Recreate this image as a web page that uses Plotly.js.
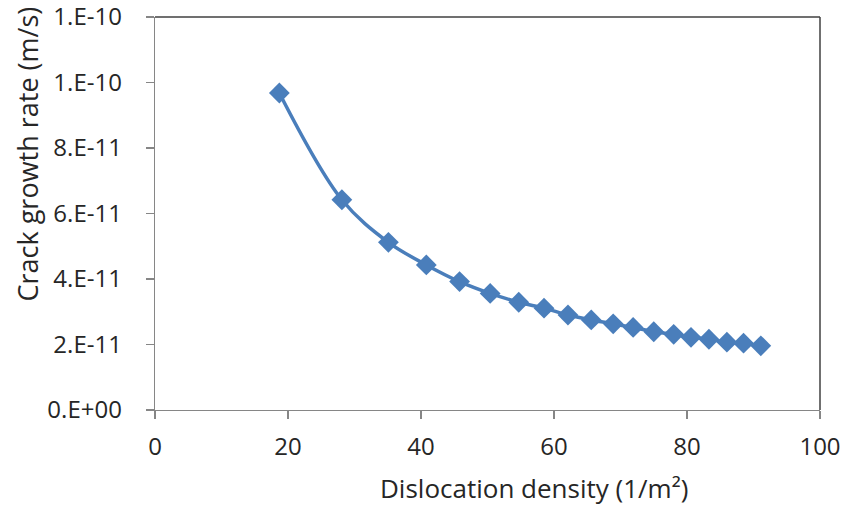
<!DOCTYPE html>
<html>
<head>
<meta charset="utf-8">
<script src="https://cdn.plot.ly/plotly-3.0.1.min.js"></script>
<style>html,body{margin:0;padding:0;background:#fff;}#chart{width:846px;height:509px;}</style>
</head>
<body>
<div id="chart"></div>
<script>
// Dislocation density (1/m²)
var density = [18.7, 28.1, 35.1, 40.8, 45.8, 50.4, 54.7, 58.5, 62.1, 65.6,
               68.9, 71.9, 75.0, 78.0, 80.6, 83.3, 86.0, 88.5, 91.1];
// Crack growth rate (m/s)
var growthRate = [9.68e-11, 6.42e-11, 5.12e-11, 4.43e-11, 3.92e-11, 3.56e-11, 3.29e-11, 3.11e-11, 2.90e-11, 2.75e-11,
                  2.63e-11, 2.52e-11, 2.39e-11, 2.31e-11, 2.22e-11, 2.16e-11, 2.07e-11, 2.04e-11, 1.96e-11];

var xTickVals = [0, 20, 40, 60, 80, 100];
var xTickText = ["0", "20", "40", "60", "80", "100"];
var yTickVals = [0, 2e-11, 4e-11, 6e-11, 8e-11, 1e-10, 1.2e-10];
var yTickText = ["0.E+00", "2.E-11", "4.E-11", "6.E-11", "8.E-11", "1.E-10", "1.E-10"];

var xTitle = "Dislocation density (1/m²)";
var yTitle = "Crack growth rate (m/s)";

var fam = "Open Sans, sans-serif";
var txtColor = "#262626";
var tickFont = {family: fam, size: 24, color: txtColor};

var trace = {
  x: density,
  y: growthRate,
  type: "scatter",
  mode: "lines+markers",
  line: {color: "#4a7ebb", width: 3.5, shape: "spline", smoothing: 1},
  marker: {symbol: "diamond", size: 16, color: "#4a7ebb", line: {width: 0}},
  showlegend: false,
  hoverinfo: "x+y"
};

var layout = {
  width: 846, height: 509,
  margin: {l: 155, r: 26, t: 17, b: 99},
  paper_bgcolor: "#ffffff",
  plot_bgcolor: "#ffffff",
  font: tickFont,
  xaxis: {
    range: [0, 100],
    tickvals: xTickVals, ticktext: xTickText,
    showgrid: false, zeroline: false,
    showline: true, linecolor: "#868686", linewidth: 1.3,
    ticks: "outside", ticklen: 8, tickcolor: "#868686", tickwidth: 1.3,
    tickfont: tickFont,
    ticklabelstandoff: 7,
    ticklabeloverflow: "allow"
  },
  yaxis: {
    range: [0, 1.2e-10],
    tickvals: yTickVals, ticktext: yTickText,
    showgrid: false, zeroline: false,
    showline: true, linecolor: "#868686", linewidth: 1.3,
    ticks: "outside", ticklen: 8, tickcolor: "#868686", tickwidth: 1.3,
    tickfont: tickFont,
    ticklabelstandoff: 19,
    ticklabeloverflow: "allow"
  },
  annotations: [
    {text: xTitle, xref: "paper", yref: "paper", x: 0.570, y: -0.198,
     xanchor: "center", yanchor: "middle", showarrow: false,
     font: {family: fam, size: 26, color: txtColor}},
    {text: yTitle, xref: "paper", yref: "paper", x: -0.192, y: 0.651,
     xanchor: "center", yanchor: "middle", showarrow: false, textangle: -90,
     font: {family: fam, size: 27, color: txtColor}}
  ],
  shapes: [
    {type: "line", xref: "paper", yref: "paper", x0: 0, x1: 1, y0: 1, y1: 1, line: {color: "#404040", width: 1.5}},
    {type: "line", xref: "paper", yref: "paper", x0: 1, x1: 1, y0: 0, y1: 1, line: {color: "#404040", width: 1.5}}
  ]
};

Plotly.newPlot("chart", [trace], layout, {displayModeBar: false, staticPlot: true});
</script>
</body>
</html>
